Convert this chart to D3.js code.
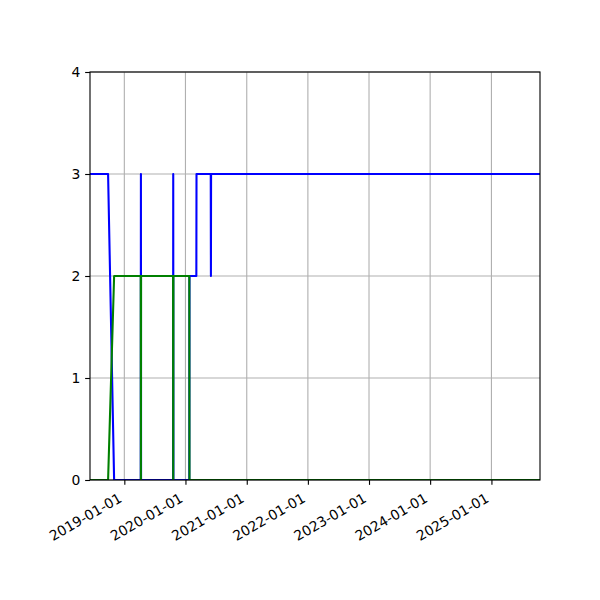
<!DOCTYPE html>
<html>
<head>
<meta charset="utf-8">
<script src="https://cdn.jsdelivr.net/npm/d3@7"></script>
<style>
  html, body { margin: 0; padding: 0; background: #fff; }
  svg { display: block; }
  text { font-family: "DejaVu Sans", sans-serif; }
</style>
</head>
<body>
<svg id="chart" width="600" height="600"></svg>
<script>
// ---- data ----
const dates = [
  "2018-06-10", "2018-09-26", "2018-11-01",
  "2019-04-09", "2019-04-10", "2019-04-11",
  "2019-10-19", "2019-10-20", "2019-10-21",
  "2020-01-24", "2020-01-25",
  "2020-03-06", "2020-03-07",
  "2020-05-31", "2020-06-01", "2020-06-02",
  "2025-10-18"
];
const blueValues  = [3, 3, 0, 0, 3, 0, 0, 3, 0, 0, 2, 2, 3, 3, 2, 3, 3];
const greenValues = [0, 0, 2, 2, 0, 2, 2, 0, 2, 2, 0, 0, 0, 0, 0, 0, 0];
const xTickLabels = ["2019-01-01", "2020-01-01", "2021-01-01", "2022-01-01", "2023-01-01", "2024-01-01", "2025-01-01"];
const yTickValues = [0, 1, 2, 3, 4];
const xDomain = ["2018-06-10", "2025-10-18"];
const yDomain = [0, 4];

// ---- layout ----
const parse = d3.utcParse("%Y-%m-%d");
const fmt = d3.utcFormat("%Y-%m-%d");
const L = 90, R = 540, T = 72, B = 480;
const PT = 100 / 72;
const svg = d3.select("#chart");

const x = d3.scaleUtc().domain(xDomain.map(parse)).range([L, R]);
const y = d3.scaleLinear().domain(yDomain).range([B, T]);

const xTicks = xTickLabels.map(parse);

// grid
const grid = svg.append("g");
grid.selectAll("line.gx").data(xTicks).join("line")
  .attr("x1", d => x(d)).attr("x2", d => x(d))
  .attr("y1", T).attr("y2", B)
  .attr("stroke", "#b0b0b0").attr("stroke-width", 0.8 * PT);
grid.selectAll("line.gy").data(yTickValues).join("line")
  .attr("x1", L).attr("x2", R)
  .attr("y1", d => y(d)).attr("y2", d => y(d))
  .attr("stroke", "#b0b0b0").attr("stroke-width", 0.8 * PT);

// clip
svg.append("clipPath").attr("id", "clip")
  .append("rect").attr("x", L).attr("y", T).attr("width", R - L).attr("height", B - T);

const pts = dates.map(parse);
const line = d3.line().x(d => x(d[0])).y(d => y(d[1]));
const series = [
  { values: blueValues, color: "#0000ff" },
  { values: greenValues, color: "#008000" }
];
const lines = svg.append("g").attr("clip-path", "url(#clip)");
series.forEach(s => {
  lines.append("path")
    .datum(pts.map((d, i) => [d, s.values[i]]))
    .attr("d", line)
    .attr("fill", "none")
    .attr("stroke", s.color)
    .attr("stroke-width", 1.5 * PT)
    .attr("stroke-linejoin", "round")
    .attr("stroke-linecap", "butt");
});

// axes
const xAxis = svg.append("g").attr("transform", `translate(0,${B})`)
  .call(d3.axisBottom(x).tickValues(xTicks).tickFormat(fmt).tickSize(3.5 * PT).tickPadding(3.5 * PT).tickSizeOuter(0));
xAxis.select(".domain").remove();
xAxis.selectAll(".tick line").attr("stroke", "#000").attr("stroke-width", 0.8 * PT);
xAxis.selectAll(".tick text")
  .attr("font-family", "DejaVu Sans")
  .attr("font-size", 13.9)
  .attr("fill", "#000")
  .attr("text-anchor", "end")
  .attr("dy", null)
  .attr("y", null)
  .attr("transform", "translate(-2,21) rotate(-30)");

const yAxis = svg.append("g").attr("transform", `translate(${L},0)`)
  .call(d3.axisLeft(y).tickValues(yTickValues).tickFormat(d3.format("d")).tickSize(3.5 * PT).tickPadding(3.5 * PT).tickSizeOuter(0));
yAxis.select(".domain").remove();
yAxis.selectAll(".tick line").attr("stroke", "#000").attr("stroke-width", 0.8 * PT);
yAxis.selectAll(".tick text")
  .attr("font-family", "DejaVu Sans")
  .attr("font-size", 13.9)
  .attr("fill", "#000");

// spines
svg.append("rect")
  .attr("x", L).attr("y", T).attr("width", R - L).attr("height", B - T)
  .attr("fill", "none").attr("stroke", "#000").attr("stroke-width", 0.8 * PT);
</script>
</body>
</html>
